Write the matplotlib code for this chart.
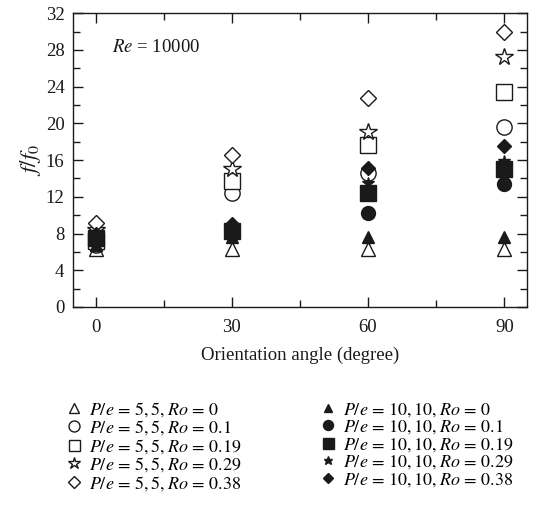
import matplotlib
matplotlib.use("Agg")
import matplotlib.pyplot as plt
from matplotlib.ticker import MultipleLocator

plt.rcParams["font.family"] = ["Liberation Serif", "DejaVu Serif"]
plt.rcParams["mathtext.fontset"] = "stix"

angles = [0, 30, 60, 90]

# P/e = 5,5 (open markers)
open_tri = [6.3, 6.3, 6.3, 6.3]
open_circle = [6.8, 12.4, 14.6, 19.6]
open_square = [7.2, 13.7, 17.6, 23.4]
open_star = [8.4, 15.0, 19.1, 27.2]
open_diamond = [9.2, 16.6, 22.8, 30.0]

# P/e = 10,10 (filled markers)
fill_tri = [6.8, 7.6, 7.6, 7.6]
fill_circle = [7.2, 8.0, 10.2, 13.4]
fill_square = [7.5, 8.3, 12.4, 15.0]
fill_star = [8.0, 8.6, 13.5, 15.9]
fill_diamond = [8.0, 9.0, 15.1, 17.5]

ro = ["0", "0.1", "0.19", "0.29", "0.38"]

fig = plt.figure(figsize=(5.6, 5.27), dpi=100)
ax = fig.add_axes([0.130, 0.4175, 0.811, 0.5575])

k = "#1a1a1a"
open_series = [open_tri, open_circle, open_square, open_star, open_diamond]
fill_series = [fill_tri, fill_circle, fill_square, fill_star, fill_diamond]
markers = ["^", "o", "s", "*", "D"]
open_sizes = [10, 11, 11, 13, 8.5]
fill_sizes = [8, 10, 11, 9, 7.5]

handles = []
for vals, m, s, r in zip(open_series, markers, open_sizes, ro):
    h, = ax.plot(angles, vals, ls="none", marker=m, ms=s, mfc="white",
                 mec=k, mew=1.0, label=rf"$P/e\, =\, 5, 5, Ro\, =\, {r}$")
    handles.append(h)
for vals, m, s, r in zip(fill_series, markers, fill_sizes, ro):
    h, = ax.plot(angles, vals, ls="none", marker=m, ms=s, mfc=k,
                 mec=k, mew=1.0, label=rf"$P/e\, =\, 10, 10, Ro\, =\, {r}$")
    handles.append(h)

ax.set_xlim(-5, 95)
ax.set_ylim(0, 32)
ax.xaxis.set_major_locator(MultipleLocator(30))
ax.xaxis.set_minor_locator(MultipleLocator(15))
ax.yaxis.set_major_locator(MultipleLocator(4))
ax.yaxis.set_minor_locator(MultipleLocator(2))
ax.tick_params(which="both", direction="in", top=True, right=True,
               labelsize=13.5, colors=k, width=1.0)
ax.tick_params(which="major", length=7)
ax.tick_params(axis="x", which="major", pad=9)
ax.tick_params(axis="y", which="major", pad=6)
ax.tick_params(which="minor", length=5)
for sp in ax.spines.values():
    sp.set_color(k)
    sp.set_linewidth(1.0)

ax.set_xlabel("Orientation angle (degree)", fontsize=13.5, color=k, labelpad=7)
ax.set_ylabel(r"$f/f_0$", fontsize=16.5, color=k, labelpad=2)
ax.text(0.086, 0.884, r"$Re$ = 10000", transform=ax.transAxes,
        fontsize=13.5, va="center", ha="left", color=k)

fig.legend(handles=handles, loc="upper left", bbox_to_anchor=(0.088, 0.272),
           ncol=2, frameon=False, fontsize=13, markerscale=0.72,
           handlelength=0.95, handletextpad=0.35, labelspacing=-0.02,
           columnspacing=4.3)

fig.savefig("out.png", dpi=100)
